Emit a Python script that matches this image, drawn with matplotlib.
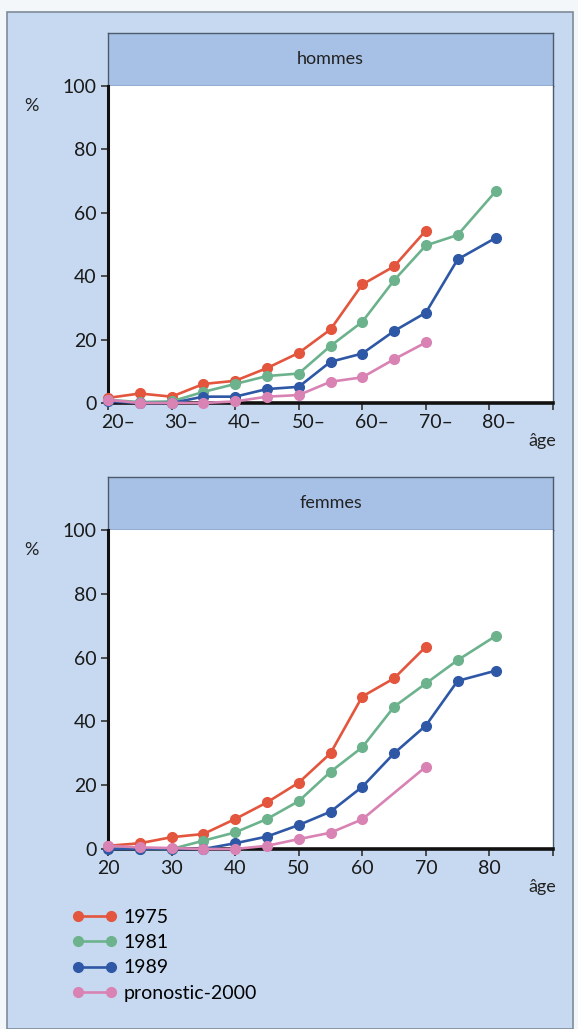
import numpy as np
import matplotlib
matplotlib.use('Agg')
from matplotlib import pyplot as plt
from matplotlib.patches import Rectangle
from matplotlib.transforms import ScaledTranslation

plt.rcParams['font.family'] = ['Lato', 'DejaVu Sans']

# ages (the last group "80 et plus" is drawn a bit past 80)
ages = [20, 25, 30, 35, 40, 45, 50, 55, 60, 65, 70, 75, 81]
series_names = ['1975', '1981', '1989', 'pronostic-2000']
series_colors = ['#e4553d', '#6cb38d', '#2e58a6', '#d982b4']

# hommes, % per age group (nan = no point)
hommes_1975 = [1.6, 3.0, 2.0, 6.0, 7.0, 11.0, 15.8, 23.2, 37.4, 43.1, 54.4, np.nan, np.nan]
hommes_1981 = [1.0, 0.3, 0.5, 3.5, 6.0, 8.5, 9.3, 18.0, 25.6, 38.7, 49.7, 53.0, 66.8]
hommes_1989 = [0.5, 0.0, 0.0, 2.0, 2.0, 4.4, 5.1, 13.0, 15.6, 22.7, 28.5, 45.3, 52.1]
hommes_2000 = [1.0, 0.0, 0.0, 0.0, 0.5, 2.0, 2.5, 6.7, 8.1, 13.8, 19.1, np.nan, np.nan]

# femmes
femmes_1975 = [1.0, 1.8, 3.7, 4.7, 9.4, 14.6, 20.8, 30.0, 47.8, 53.5, 63.4, np.nan, np.nan]
femmes_1981 = [0.5, 0.0, 0.0, 2.6, 5.2, 9.4, 15.0, 24.2, 31.9, 44.6, 51.9, 59.2, 66.8]
femmes_1989 = [0.0, 0.0, 0.0, 0.0, 1.8, 3.9, 7.5, 11.7, 19.5, 30.0, 38.7, 52.7, 55.9]
femmes_2000 = [1.0, 0.5, 0.3, 0.0, 0.0, 1.0, 3.1, 5.1, 9.3, np.nan, 25.8, np.nan, np.nan]

x_ticks = [20, 30, 40, 50, 60, 70, 80, 90]
x_labels_h = ['20–', '30–', '40–', '50–', '60–', '70–', '80–', '']
x_labels_f = ['20', '30', '40', '50', '60', '70', '80', '']
y_ticks = [0, 20, 40, 60, 80, 100]

BG = '#c6d9f0'
HEAD = '#a6c0e6'
W, H = 578, 1029

fig = plt.figure(figsize=(W / 100, H / 100), dpi=100)
fig.patch.set_facecolor('#f4f7fa')

# outer panel
fig.patches.append(Rectangle((7 / W, 0), 566 / W, 1 - 12 / H, transform=fig.transFigure,
                             facecolor=BG, edgecolor='#7d8a98', lw=1.2, zorder=-5))


def fx(px):
    return px / W


def fy(px):
    return 1 - px / H


def draw_panel(top_px, zero_px, title, data, labels, shifted):
    head_bottom = top_px + 53
    hax = fig.add_axes([fx(108), fy(head_bottom), fx(553) - fx(108), fy(top_px) - fy(head_bottom)])
    hax.set_facecolor(HEAD)
    hax.set_xticks([])
    hax.set_yticks([])
    for s in hax.spines.values():
        s.set_color('#4d5a6c')
        s.set_linewidth(1.0)
    hax.text(0.5, 0.5, title, ha='center', va='center', fontsize=13, color='#222222')

    ax = fig.add_axes([fx(108), fy(zero_px), fx(553) - fx(108), fy(head_bottom) - fy(zero_px)])
    ax.set_facecolor('white')
    lines = []
    for vals, color, name in zip(data, series_colors, series_names):
        x = np.array(ages, dtype=float)
        y = np.array(vals, dtype=float)
        ok = ~np.isnan(y)
        ln, = ax.plot(x[ok], y[ok], color=color, lw=1.9, marker='o', ms=7,
                      mec=color, mfc=color, label=name, clip_on=False, zorder=3)
        lines.append(ln)
    ax.set_xlim(20, 90)
    ax.set_ylim(0, 100)
    ax.set_xticks(x_ticks)
    ax.set_xticklabels(labels, fontsize=14, color='#1a1a1a')
    ax.set_yticks(y_ticks)
    ax.set_yticklabels([str(v) for v in y_ticks], fontsize=14, color='#1a1a1a')
    ax.tick_params(axis='both', direction='out', length=5, width=1.2, color='#333333', pad=3)
    if shifted:
        off = ScaledTranslation(10 / 100, 0, fig.dpi_scale_trans)
        for lab in ax.get_xticklabels():
            lab.set_transform(lab.get_transform() + off)
    ax.spines['top'].set_visible(False)
    ax.spines['left'].set_linewidth(2.2)
    ax.spines['bottom'].set_linewidth(2.6)
    ax.spines['left'].set_color('#111111')
    ax.spines['bottom'].set_color('#111111')
    ax.spines['right'].set_linewidth(1.0)
    ax.spines['right'].set_color('#4d5a6c')
    fig.text(fx(31), fy(head_bottom + 20), '%', fontsize=13, ha='center', va='center', color='#222222')
    fig.text(fx(556), fy(zero_px + 38), 'âge', fontsize=13, ha='right', va='center', color='#222222')
    return lines


lines = draw_panel(33, 403, 'hommes', [hommes_1975, hommes_1981, hommes_1989, hommes_2000],
                   x_labels_h, True)
draw_panel(477, 849, 'femmes', [femmes_1975, femmes_1981, femmes_1989, femmes_2000],
           x_labels_f, False)

fig.legend(handles=lines, loc='upper left', bbox_to_anchor=(fx(72), fy(909)),
           frameon=False, numpoints=2, handlelength=2.3, handletextpad=0.35,
           labelspacing=0.42, fontsize=14, borderaxespad=0, borderpad=0)

fig.savefig('out.png', dpi=100, facecolor=fig.get_facecolor())
